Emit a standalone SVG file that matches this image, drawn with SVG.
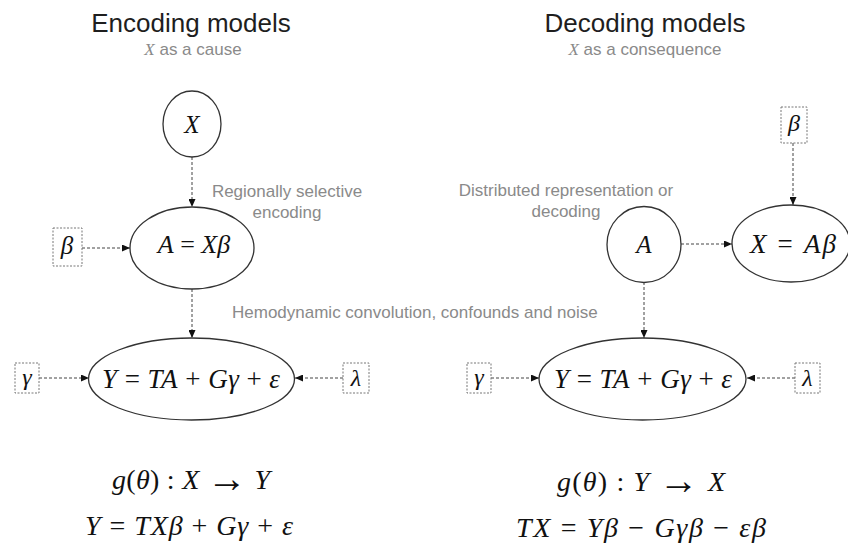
<svg xmlns="http://www.w3.org/2000/svg" width="848" height="548" viewBox="0 0 848 548">
<style>
.title{font-family:"Liberation Sans",Arial,sans-serif;font-size:26px;fill:#1e1e1e;text-anchor:middle}
.sub{font-family:"Liberation Sans",Arial,sans-serif;font-size:17px;fill:#8a8a8a;text-anchor:middle}
.lbl{font-family:"Liberation Sans",Arial,sans-serif;font-size:17px;fill:#8a8a8a}
.m{font-family:"Liberation Serif","Times New Roman",serif;font-style:italic;fill:#111;text-anchor:middle}
.op{font-style:normal}
.arr{font-style:normal;font-size:40px}
.node{fill:#fff;stroke:#333;stroke-width:1.3}
.box{fill:#fff;stroke:#777;stroke-width:1;stroke-dasharray:2 1.5}
.edge{fill:none;stroke:#444;stroke-width:1;stroke-dasharray:3 2;marker-end:url(#ah)}
</style>
<defs>
<marker id="ah" markerUnits="userSpaceOnUse" markerWidth="8" markerHeight="7" refX="8" refY="3.5" orient="auto">
<path d="M0,0 L8,3.5 L0,7 z" fill="#111"/>
</marker>
</defs>
<rect width="848" height="548" fill="#fff"/>

<text class="title" x="191" y="32">Encoding models</text>
<text class="sub" x="193" y="55"><tspan font-family="Liberation Serif" font-style="italic">X</tspan> as a cause</text>
<text class="title" x="645" y="32">Decoding models</text>
<text class="sub" x="645" y="55"><tspan font-family="Liberation Serif" font-style="italic">X</tspan> as a consequence</text>

<text class="lbl" x="287" y="197" text-anchor="middle">Regionally selective</text>
<text class="lbl" x="287" y="218" text-anchor="middle">encoding</text>
<text class="lbl" x="566" y="196" text-anchor="middle">Distributed representation or</text>
<text class="lbl" x="566" y="217" text-anchor="middle">decoding</text>
<text class="lbl" x="232" y="318">Hemodynamic convolution, confounds and noise</text>

<g id="connectors">
<line class="edge" x1="192" y1="157" x2="192" y2="207"/>
<line class="edge" x1="82" y1="248" x2="130" y2="248"/>
<line class="edge" x1="192" y1="289" x2="192" y2="338"/>
<line class="edge" x1="39" y1="378" x2="89" y2="378"/>
<line class="edge" x1="343" y1="378" x2="295" y2="378"/>
<line class="edge" x1="793" y1="143" x2="793" y2="205"/>
<line class="edge" x1="681" y1="244" x2="732" y2="244"/>
<line class="edge" x1="644" y1="282" x2="644" y2="338"/>
<line class="edge" x1="491" y1="378" x2="539" y2="378"/>
<line class="edge" x1="795" y1="378" x2="747" y2="378"/>
</g>

<g id="enc-X">
<ellipse class="node" cx="192" cy="124" rx="29" ry="33"/>
<text class="m" x="192" y="133" font-size="25">X</text>
</g>
<g id="enc-A">
<ellipse class="node" cx="192" cy="248" rx="62" ry="41"/>
<text class="m" x="194" y="253" font-size="26">A<tspan class="op"> = </tspan>Xβ</text>
</g>
<g id="enc-beta">
<rect class="box" x="53" y="228" width="29" height="38"/>
<text class="m" x="67" y="254" font-size="25">β</text>
</g>
<g id="enc-Y">
<ellipse class="node" cx="191.5" cy="379" rx="103" ry="41"/>
<text class="m" x="191" y="388" font-size="27" textLength="178">Y<tspan class="op"> = </tspan>TA<tspan class="op"> + </tspan>Gγ<tspan class="op"> + </tspan>ε</text>
</g>
<g id="enc-gamma">
<rect class="box" x="15" y="363" width="24" height="30"/>
<text class="m" x="27" y="385" font-size="24">γ</text>
</g>
<g id="enc-lambda">
<rect class="box" x="343" y="363" width="26" height="30"/>
<text class="m" x="356" y="386" font-size="24">λ</text>
</g>

<g id="dec-beta">
<rect class="box" x="781" y="107" width="26" height="36"/>
<text class="m" x="794" y="131" font-size="24">β</text>
</g>
<g id="dec-A">
<ellipse class="node" cx="644" cy="244.5" rx="37" ry="38"/>
<text class="m" x="644" y="253" font-size="25">A</text>
</g>
<g id="dec-X">
<ellipse class="node" cx="791" cy="243.5" rx="59" ry="38.5"/>
<text class="m" x="793" y="253" font-size="27" textLength="86">X<tspan class="op"> = </tspan>Aβ</text>
</g>
<g id="dec-Y">
<ellipse class="node" cx="642.5" cy="379" rx="103.5" ry="41"/>
<text class="m" x="643" y="388" font-size="27" textLength="178">Y<tspan class="op"> = </tspan>TA<tspan class="op"> + </tspan>Gγ<tspan class="op"> + </tspan>ε</text>
</g>
<g id="dec-gamma">
<rect class="box" x="467" y="363" width="24" height="30"/>
<text class="m" x="479" y="385" font-size="24">γ</text>
</g>
<g id="dec-lambda">
<rect class="box" x="795" y="363" width="25" height="30"/>
<text class="m" x="807.5" y="386" font-size="24">λ</text>
</g>

<text class="m" x="191" y="489" font-size="28" textLength="158">g<tspan class="op">(</tspan>θ<tspan class="op">) : </tspan>X<tspan class="op"> </tspan><tspan class="arr" dy="3">→</tspan><tspan class="op" dy="-3"> </tspan>Y</text>
<text class="m" x="189" y="535" font-size="28" textLength="208">Y<tspan class="op"> = </tspan>TXβ<tspan class="op"> + </tspan>Gγ<tspan class="op"> + </tspan>ε</text>
<text class="m" x="641" y="491" font-size="28" textLength="168">g<tspan class="op">(</tspan>θ<tspan class="op">) : </tspan>Y<tspan class="op"> </tspan><tspan class="arr" dy="3">→</tspan><tspan class="op" dy="-3"> </tspan>X</text>
<text class="m" x="641" y="537" font-size="28" textLength="250">TX<tspan class="op"> = </tspan>Yβ<tspan class="op"> − </tspan>Gγβ<tspan class="op"> − </tspan>εβ</text>
</svg>
